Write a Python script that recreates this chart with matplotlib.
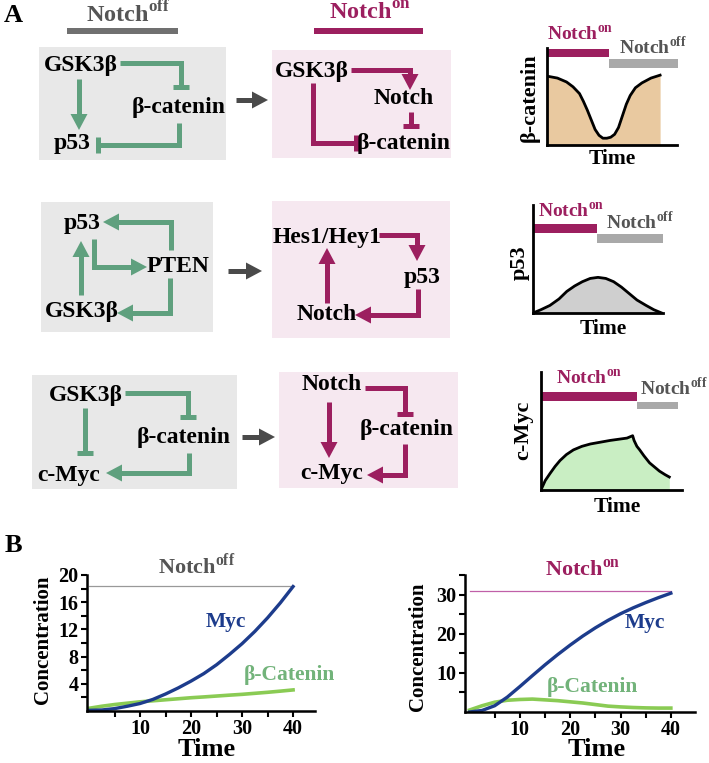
import matplotlib
matplotlib.use("Agg")
import matplotlib.pyplot as plt
from matplotlib.patches import Rectangle, Polygon

plt.rcParams['font.family'] = ['Liberation Serif', 'DejaVu Serif']
plt.rcParams['font.weight'] = 'bold'
plt.rcParams['mathtext.fontset'] = 'custom'
plt.rcParams['mathtext.rm'] = 'Liberation Serif'
plt.rcParams['mathtext.bf'] = 'Liberation Serif:bold'

W, H = 709, 763

GREEN = '#5fa07e'
MAGENTA = '#9c1f5f'
GRAY_BOX = '#e8e8e8'
PINK_BOX = '#f6e8f0'
DARK = '#4a4a4a'
OFF_TXT = '#555555'
OFF_BAR = '#a9a9a9'

NOTCH_ON = r'$\mathbf{Notch}^{\mathbf{on}}$'
NOTCH_OFF = r'$\mathbf{Notch}^{\mathbf{off}}$'

# sketch curves (x, y in % of the small axes)
bcat_x = [0, 8, 15, 20, 25, 28, 31, 34, 37, 40, 43, 46, 49, 52, 55, 58, 61, 64, 68, 73, 80, 87]
bcat_y = [71, 69, 65, 60, 53, 45, 36, 26, 16, 10, 7, 7, 8, 11, 18, 30, 42, 51, 59, 64, 69, 72]
p53_x = [0, 6, 13, 20, 26, 32, 38, 44, 50, 56, 62, 68, 74, 80, 87, 93, 99]
p53_y = [0, 3, 7, 13, 20, 25, 29, 32, 33, 32, 29, 24, 18, 12, 7, 3, 0]
myc_x = [0.5, 3, 6.4, 10, 13.5, 18, 23, 29, 35, 42, 49, 55, 61, 65, 66, 68, 70, 73, 77, 80, 84, 88, 91]
myc_y = [1.4, 8, 14, 20, 25, 30, 34, 37, 39, 40.5, 42, 43, 44, 46, 42, 37, 34, 29, 23, 20, 16, 13, 11]

# panel B simulations
time = [0, 2.5, 5, 7.5, 10, 12.5, 15, 17.5, 20, 22.5, 25, 27.5, 30, 32.5, 35, 37.5, 40]
myc_off = [0.1, 0.15, 0.35, 0.7, 1.1, 1.7, 2.5, 3.4, 4.4, 5.5, 6.8, 8.3, 9.9, 11.7, 13.7, 15.9, 18.3]
bcat_off = [0.4, 0.7, 0.95, 1.15, 1.35, 1.5, 1.65, 1.8, 1.95, 2.07, 2.2, 2.33, 2.45, 2.6, 2.75, 2.92, 3.1]
myc_on = [0, 0.4, 1.6, 3.8, 6.5, 9.3, 12.05, 14.65, 17.1, 19.4, 21.5, 23.4, 25.1, 26.6, 27.95, 29.2, 30.35]
bcat_on = [0.5, 1.6, 2.5, 3.0, 3.2, 3.3, 3.1, 2.9, 2.6, 2.3, 1.9, 1.5, 1.3, 1.15, 1.05, 1.0, 1.0]
level_off = 18.4
level_on = 30.8

fig = plt.figure(figsize=(W / 100, H / 100), dpi=100)
ax = fig.add_axes([0, 0, 1, 1])
ax.set_xlim(0, W)
ax.set_ylim(H, 0)
ax.axis('off')


def px_axes(x0, y0, x1, y1):
    return fig.add_axes([x0 / W, 1 - y1 / H, (x1 - x0) / W, (y1 - y0) / H])


def box(x0, y0, x1, y1, c):
    ax.add_patch(Rectangle((x0, y0), x1 - x0, y1 - y0, color=c, lw=0, zorder=0))


def bar(x0, y0, x1, y1, c):
    ax.add_patch(Rectangle((x0, y0), x1 - x0, y1 - y0, color=c, lw=0))


def label(x, y, s, size=17, c='black', **kw):
    ax.text(x, y, s, fontsize=size, color=c, ha=kw.pop('ha', 'center'),
            va=kw.pop('va', 'center'), fontweight='bold', **kw)


def link(pts, c, end='arrow', lw=3.6, hl=16, hw=8.5, tb=8):
    xs = [p[0] for p in pts]
    ys = [p[1] for p in pts]
    (xa, ya), (xb, yb) = pts[-2], pts[-1]
    dx, dy = xb - xa, yb - ya
    n = (dx ** 2 + dy ** 2) ** 0.5
    ux, uy = dx / n, dy / n
    if end == 'arrow':
        xs[-1] = xb - ux * (hl - 2)
        ys[-1] = yb - uy * (hl - 2)
        ax.add_patch(Polygon([(xb, yb),
                              (xb - ux * hl - uy * hw, yb - uy * hl + ux * hw),
                              (xb - ux * hl + uy * hw, yb - uy * hl - ux * hw)],
                             closed=True, color=c, lw=0))
    ax.plot(xs, ys, color=c, lw=lw, solid_capstyle='butt', solid_joinstyle='miter')
    if end == 'bar':
        ax.plot([xb - uy * tb, xb + uy * tb], [yb + ux * tb, yb - ux * tb],
                color=c, lw=lw, solid_capstyle='butt')


# ---- panel A headers
ax.text(13, 16, 'A', fontsize=19, fontweight='bold', ha='center', va='center')
label(128, 14, NOTCH_OFF, size=17.5, c=OFF_TXT)
bar(67, 28, 178, 34, '#707070')
label(370, 14, NOTCH_ON, size=17.5, c=MAGENTA)
bar(314, 28, 423, 34, MAGENTA)

# ---- row 1
box(39, 47, 226, 160, GRAY_BOX)
label(81, 65, 'GSK3β')
label(179, 108, 'β-catenin')
label(72, 143, 'p53')
link([(120, 63), (181, 63), (181, 87)], GREEN, 'bar')
link([(79, 79), (79, 130)], GREEN)
link([(179, 123), (179, 145), (98, 145)], GREEN, 'bar')

box(272, 50, 451, 158, PINK_BOX)
label(312, 72, 'GSK3β')
label(404, 98, 'Notch')
label(404, 143, 'β-catenin')
link([(351, 70), (410, 70), (410, 90)], MAGENTA)
link([(411, 112), (411, 126)], MAGENTA, 'bar')
link([(313, 83), (313, 143), (356, 143)], MAGENTA, 'bar')
link([(236, 100), (268, 100)], DARK)

# ---- row 2
box(41, 202, 213, 332, GRAY_BOX)
label(82, 223, 'p53')
label(178, 266, 'PTEN')
label(82, 311, 'GSK3β')
link([(171, 250), (171, 222), (103, 222)], GREEN)
link([(94, 239), (94, 267), (147, 267)], GREEN)
link([(81, 295), (81, 241)], GREEN)
link([(170, 278), (170, 313), (117, 313)], GREEN)

box(272, 201, 450, 338, PINK_BOX)
label(327, 238, 'Hes1/Hey1')
label(422, 277, 'p53')
label(327, 315, 'Notch')
link([(379, 235), (417, 235), (417, 261)], MAGENTA)
link([(418, 289), (418, 315), (355, 315)], MAGENTA)
link([(327, 303), (327, 248)], MAGENTA)
link([(228, 271), (262, 271)], DARK)

# ---- row 3
box(32, 375, 237, 489, GRAY_BOX)
label(86, 395, 'GSK3β')
label(184, 438, 'β-catenin')
label(69, 475, 'c-Myc')
link([(125, 393), (188, 393), (188, 417)], GREEN, 'bar')
link([(85, 408), (85, 453)], GREEN, 'bar')
link([(189, 453), (189, 473), (106, 473)], GREEN)

box(279, 372, 458, 488, PINK_BOX)
label(332, 385, 'Notch')
label(407, 430, 'β-catenin')
label(332, 473, 'c-Myc')
link([(365, 388), (405, 388), (405, 414)], MAGENTA, 'bar')
link([(329, 402), (329, 458)], MAGENTA)
link([(405, 444), (405, 475), (367, 475)], MAGENTA)
link([(242, 437), (275, 437)], DARK)


# ---- sketches
def sketch(box_px, xs, ys, fill, ylab, ylab_xy, time_xy, on_bar, off_bar, on_xy, off_xy):
    sa = px_axes(*box_px)
    sa.set_facecolor('none')
    sa.fill_between(xs, ys, 0, color=fill, lw=0)
    sa.plot(xs, ys, color='black', lw=2)
    sa.set_xlim(0, 100)
    sa.set_ylim(0, 100)
    for s in ('top', 'right'):
        sa.spines[s].set_visible(False)
    for s in ('left', 'bottom'):
        sa.spines[s].set_linewidth(2)
    sa.set_xticks([])
    sa.set_yticks([])
    bar(*on_bar, MAGENTA)
    bar(*off_bar, OFF_BAR)
    label(*on_xy, NOTCH_ON, size=14, c=MAGENTA, ha='left')
    label(*off_xy, NOTCH_OFF, size=14, c=OFF_TXT, ha='left')
    label(*ylab_xy, ylab, size=16, rotation=90)
    label(*time_xy, 'Time', size=15.5)


sketch((547, 48, 677, 145), bcat_x, bcat_y, '#e9c9a0', 'β-catenin', (530, 98), (612, 159),
       (547, 49, 609, 57), (609, 59, 678, 68), (547, 35), (619, 47))
sketch((533, 205, 663, 313), p53_x, p53_y, '#cfcfcf', 'p53', (520, 263), (603, 329),
       (533, 224, 597, 233), (597, 234, 663, 243), (538, 212), (606, 222))
sketch((541, 372, 682, 490), myc_x, myc_y, '#c9eec3', 'c-Myc', (523, 430), (617, 507),
       (541, 392, 637, 401), (637, 402, 678, 409), (556, 379), (640, 388))

# ---- panel B
ax.text(13, 546, 'B', fontsize=19, fontweight='bold', ha='center', va='center')


def sim_axes(box_px, xlim, ylim, yticks, ylabels, myc, bcat, level, lc, title, tc,
             title_xy, myc_xy, bcat_xy, conc_xy, time_xy):
    ba = px_axes(*box_px)
    ba.set_facecolor('none')
    ba.plot([0, 40], [level, level], color=lc, lw=0.9)
    ba.plot(time, bcat, color='#8acb54', lw=2.6)
    ba.plot(time, myc, color='#1d3c8c', lw=2.4)
    ba.set_xlim(*xlim)
    ba.set_ylim(*ylim)
    for s in ('top', 'right'):
        ba.spines[s].set_visible(False)
    for s in ('left', 'bottom'):
        ba.spines[s].set_linewidth(1.8)
    xt = [5, 10, 15, 20, 25, 30, 35, 40]
    ba.set_xticks(xt)
    ba.set_xticklabels([str(t) if t % 10 == 0 else '' for t in xt])
    ba.set_yticks(yticks)
    ba.set_yticklabels(ylabels)
    ba.tick_params(direction='out', length=4, width=1.5, labelsize=14.5, pad=2)
    for t in ba.get_xticklabels() + ba.get_yticklabels():
        t.set_fontweight('bold')
    label(*title_xy, title, size=16, c=tc)
    label(*myc_xy, 'Myc', size=15.5, c='#1d3c8c')
    label(*bcat_xy, 'β-Catenin', size=15.5, c='#72b37a')
    label(*conc_xy, 'Concentration', size=15, rotation=90)
    label(*time_xy, 'Time', size=19, va='baseline')


sim_axes((87, 575, 315, 711), (-0.4, 44.3), (0, 20),
         [2, 4, 6, 8, 10, 12, 14, 16, 18, 20], ['', '4', '', '8', '', '12', '', '16', '', '20'],
         myc_off, bcat_off, level_off, '#999999', NOTCH_OFF, OFF_TXT,
         (197, 566), (226, 622), (289, 675), (43, 640), (207, 756))
sim_axes((465, 575, 695, 712), (-0.9, 44.8), (0, 35),
         [5, 10, 15, 20, 25, 30, 35], ['', '10', '', '20', '', '30', ''],
         myc_on, bcat_on, level_on, '#c060a8', NOTCH_ON, MAGENTA,
         (583, 570), (645, 623), (592, 687), (418, 647), (597, 756))

fig.savefig('out.png', dpi=100)
